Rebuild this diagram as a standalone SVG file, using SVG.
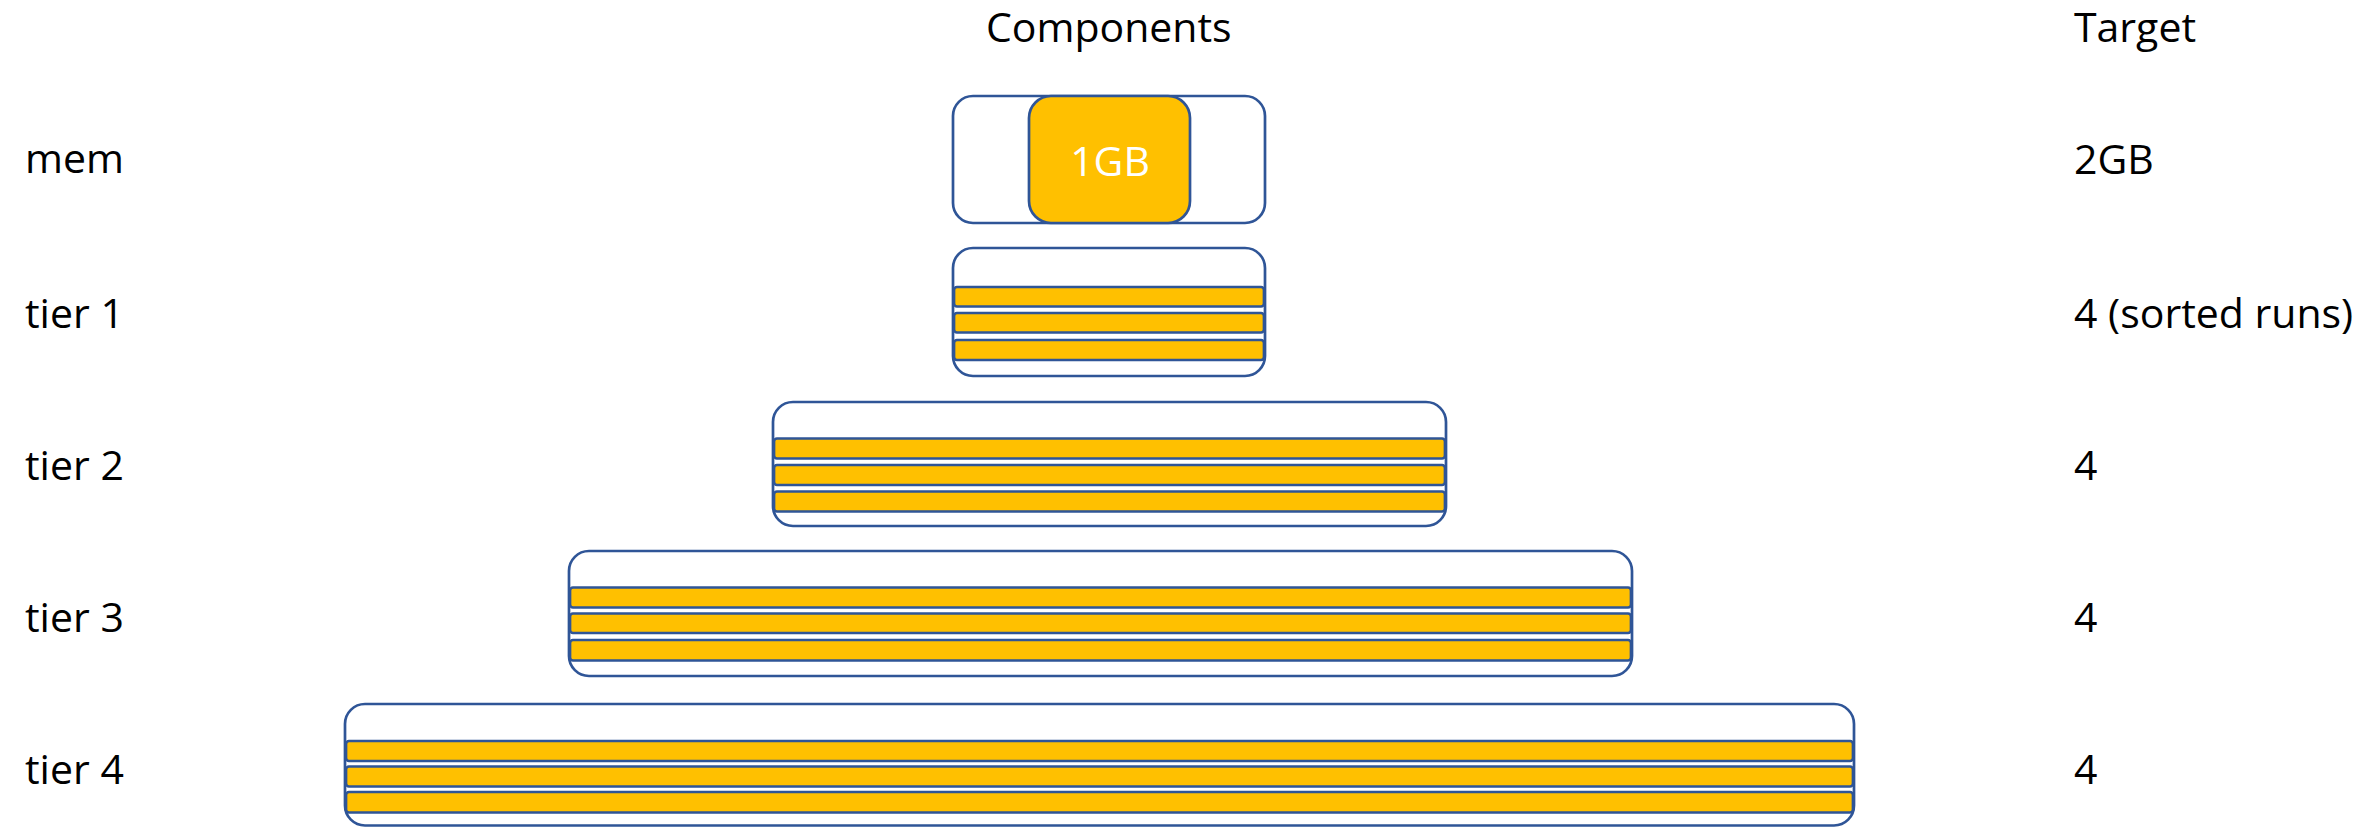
<svg xmlns="http://www.w3.org/2000/svg" width="2372" height="827" viewBox="0 0 2372 827">
<style>
.t{font-family:"Open Sans","Noto Sans",sans-serif;font-size:41px;fill:#000}
.box{fill:#fff;stroke:#2F5597;stroke-width:2.7}
.bar{fill:#FFC000;stroke:#2F5597;stroke-width:2.7}
.w{font-family:"Open Sans","Noto Sans",sans-serif;font-size:41px;fill:#fff}
</style>
<rect width="2372" height="827" fill="#fff"/>
<g id="headers">
<text class="t" x="986" y="42">Components</text>
<text class="t" x="2074" y="42">Target</text>
</g>
<g id="labels">
<text class="t" x="25" y="173">mem</text>
<text class="t" x="25" y="328">tier 1</text>
<text class="t" x="25" y="480">tier 2</text>
<text class="t" x="25" y="632">tier 3</text>
<text class="t" x="25" y="784">tier 4</text>
</g>
<g id="targets">
<text class="t" x="2074" y="174">2GB</text>
<text class="t" x="2074" y="328">4 (sorted runs)</text>
<text class="t" x="2074" y="480">4</text>
<text class="t" x="2074" y="632">4</text>
<text class="t" x="2074" y="784">4</text>
</g>
<g id="mem">
<rect class="box" x="953" y="96" width="312" height="127" rx="20"/>
<rect class="bar" x="1029" y="96" width="161" height="127" rx="22"/>
<text class="w" x="1110" y="176" text-anchor="middle">1GB</text>
</g>
<g id="tier1">
<rect class="box" x="953" y="248" width="312" height="128" rx="20"/>
<rect class="bar" x="954" y="287" width="310" height="19.5" rx="3"/>
<rect class="bar" x="954" y="313" width="310" height="19.5" rx="3"/>
<rect class="bar" x="954" y="340" width="310" height="20" rx="3"/>
</g>
<g id="tier2">
<rect class="box" x="773" y="402" width="673" height="124" rx="20"/>
<rect class="bar" x="774" y="438.5" width="671" height="20" rx="3"/>
<rect class="bar" x="774" y="465" width="671" height="20" rx="3"/>
<rect class="bar" x="774" y="491.5" width="671" height="20" rx="3"/>
</g>
<g id="tier3">
<rect class="box" x="569" y="551" width="1063" height="125" rx="20"/>
<rect class="bar" x="570" y="587.5" width="1061" height="20" rx="3"/>
<rect class="bar" x="570" y="613.5" width="1061" height="19.5" rx="3"/>
<rect class="bar" x="570" y="640" width="1061" height="20.5" rx="3"/>
</g>
<g id="tier4">
<rect class="box" x="345" y="704" width="1509" height="121.5" rx="20"/>
<rect class="bar" x="346" y="741" width="1507" height="20" rx="3"/>
<rect class="bar" x="346" y="766.5" width="1507" height="20" rx="3"/>
<rect class="bar" x="346" y="792" width="1507" height="20.5" rx="3"/>
</g>
<g id="connectors"></g>
</svg>
